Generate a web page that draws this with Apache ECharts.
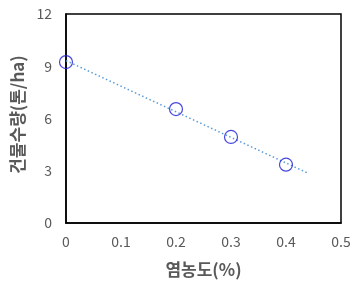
<!DOCTYPE html>
<html><head><meta charset="utf-8">
<script src="https://cdn.jsdelivr.net/npm/echarts@6/dist/echarts.min.js"></script>
<style>html,body{margin:0;padding:0;background:#fff}#c{width:360px;height:288px}</style>
</head><body><div id="c"></div>
<script>
const salinity = [0, 0.2, 0.3, 0.4];
const dryMatter = [9.24, 6.54, 4.94, 3.35];
const xTicks = [0, 0.1, 0.2, 0.3, 0.4, 0.5];
const yTicks = [0, 3, 6, 9, 12];
const trendEndX = 0.44;

// linear trendline (least squares) from data
const n = salinity.length;
const mx = salinity.reduce((a,b)=>a+b,0)/n, my = dryMatter.reduce((a,b)=>a+b,0)/n;
let sxx=0, sxy=0;
for (let i=0;i<n;i++){ sxx+=(salinity[i]-mx)**2; sxy+=(salinity[i]-mx)*(dryMatter[i]-my); }
const slope = sxy/sxx, icpt = my - slope*mx;
const trend = [[0, icpt],[trendEndX, icpt + slope*trendEndX]];

const font = '"Noto Sans CJK KR", "Noto Sans", sans-serif';
const chart = echarts.init(document.getElementById('c'));
chart.setOption({
  animation:false,
  grid:{left:66, top:14, right:19, bottom:65, show:true, borderColor:'#000', borderWidth:1.5},
  xAxis:{type:'value', min:xTicks[0], max:xTicks[xTicks.length-1], interval:0.1,
    name:'염농도(%)', nameLocation:'middle', nameGap:38,
    nameTextStyle:{fontFamily:font, fontSize:17, fontWeight:'bold', color:'#595959'},
    axisLine:{lineStyle:{color:'#000', width:1.5}}, axisTick:{show:false}, splitLine:{show:false},
    axisLabel:{margin:12, fontFamily:font, fontSize:14, color:'#595959'}},
  yAxis:{type:'value', min:yTicks[0], max:yTicks[yTicks.length-1], interval:3,
    name:'건물수량(톤/ha)', nameLocation:'middle', nameGap:38,
    nameTextStyle:{fontFamily:font, fontSize:17, fontWeight:'bold', color:'#595959', padding:[0,0,0,8]},
    axisLine:{show:true, lineStyle:{color:'#000', width:1.5}}, axisTick:{show:false}, splitLine:{show:false},
    axisLabel:{margin:14, fontFamily:font, fontSize:14, color:'#595959'}},
  series:[
    {type:'line', data:trend, symbol:'none', lineStyle:{color:'#5b9bd5', width:1.5, type:[1.5,2.5]}, z:1},
    {type:'scatter', data:salinity.map((x,i)=>[x,dryMatter[i]]), symbol:'circle', symbolSize:13,
      itemStyle:{color:'rgba(0,0,0,0)', borderColor:'#1a1ad6', borderWidth:1.2}, z:2}
  ]
});
</script></body></html>
